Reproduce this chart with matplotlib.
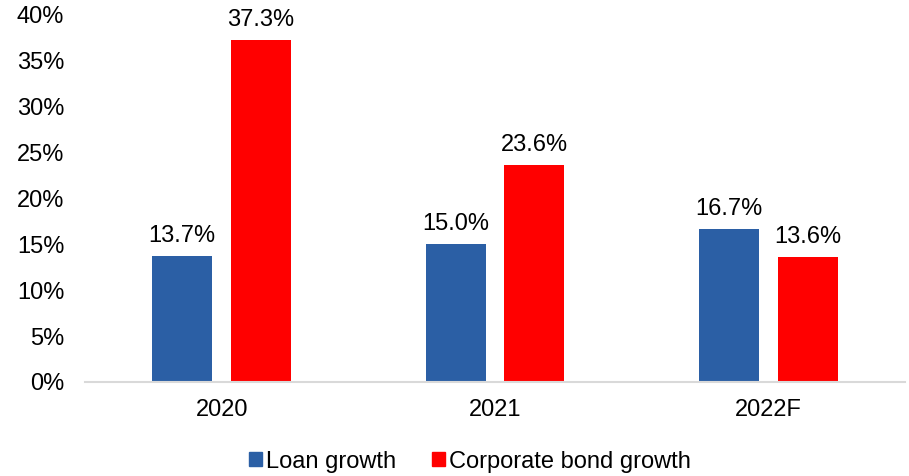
import numpy as np
import matplotlib.pyplot as plt
from matplotlib.ticker import FuncFormatter
from matplotlib.patches import Patch

plt.rcParams['font.family'] = ['Liberation Sans', 'DejaVu Sans']

years = ['2020', '2021', '2022F']
loan_growth = [13.7, 15.0, 16.7]
bond_growth = [37.3, 23.6, 13.6]

blue = '#2B5FA5'
red = '#FF0000'

fig = plt.figure(figsize=(9.09, 4.76), dpi=100)
ax = fig.add_axes([0.0935, 0.1975, 0.902, 0.771])

x = np.arange(len(years))
w = 0.22
off = 0.144
b1 = ax.bar(x - off, loan_growth, w, color=blue)
b2 = ax.bar(x + off, bond_growth, w, color=red)

for bars, vals in [(b1, loan_growth), (b2, bond_growth)]:
    for r, v in zip(bars, vals):
        ax.text(r.get_x() + r.get_width() / 2, v + 1.0, f'{v:.1f}%',
                ha='center', va='bottom', fontsize=17)

ax.set_xlim(-0.5, 2.5)
ax.set_ylim(0, 40)
ax.set_yticks(np.arange(0, 41, 5))
ax.yaxis.set_major_formatter(FuncFormatter(lambda v, p: f'{v:.0f}%'))
ax.set_xticks(x)
ax.set_xticklabels(years)
ax.tick_params(axis='both', length=0, labelsize=17)
ax.tick_params(axis='x', pad=12)
ax.tick_params(axis='y', pad=15)

for s in ['top', 'right', 'left']:
    ax.spines[s].set_visible(False)
ax.spines['bottom'].set_color('#D9D9D9')
ax.spines['bottom'].set_linewidth(1.5)

handles = [Patch(color=blue, label='Loan growth'),
           Patch(color=red, label='Corporate bond growth')]
fig.legend(handles=handles, loc='center', bbox_to_anchor=(0.517, 0.03),
           ncol=2, frameon=False, fontsize=17, handlelength=0.55,
           handleheight=0.55, handletextpad=0.2, columnspacing=1.5)

fig.savefig('out.png', dpi=100)
